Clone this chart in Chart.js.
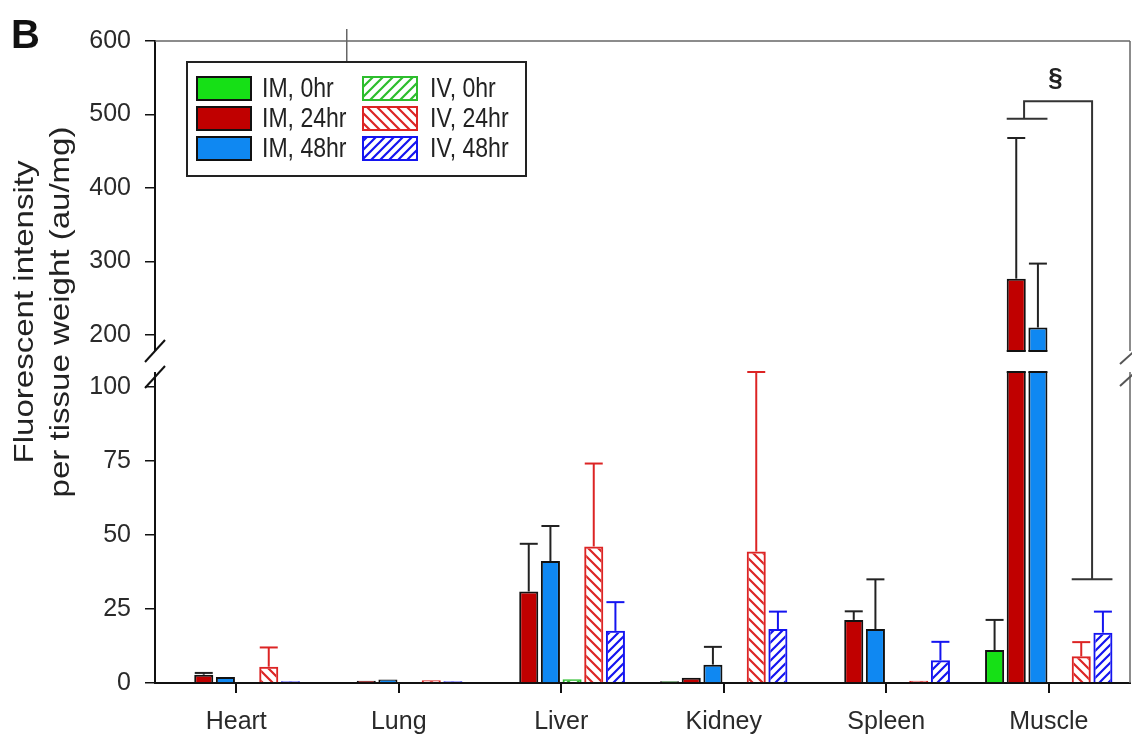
<!DOCTYPE html>
<html lang="en">
<head>
<meta charset="UTF-8">
<title>Fluorescent intensity per tissue weight</title>
<style>
  html, body { margin: 0; padding: 0; background: #fff; }
  #wrap { width: 1132px; height: 749px; position: relative; }
</style>
</head>
<body>
<div id="wrap"><canvas id="myChart"></canvas></div>

<script src="https://cdn.jsdelivr.net/npm/chart.js@4.4.1/dist/chart.umd.min.js"></script>
<script>
  // data (upper error = SD shown above each bar)
  const categories = ['Heart', 'Lung', 'Liver', 'Kidney', 'Spleen', 'Muscle'];
  const yTicks = [0, 25, 50, 75, 100, 200, 300, 400, 500, 600];

  const im0     = [0,   0,   0,    0.6, 0,    11.1];
  const im0Err  = [0,   0,   0,    0,   0,    10.2];
  const im24    = [2.8, 0.8, 30.9, 1.8, 21.3, 276.5];
  const im24Err = [0.6, 0,   16.1, 0,   2.9,  191.5];
  const im48    = [2.0, 1.2, 41.2, 6.2, 18.2, 210];
  const im48Err = [0,   0,   11.8, 6.0, 16.8, 87];
  const iv0     = [0,   0,   1.3,  0,   0,    0];
  const iv0Err  = [0,   0,   0,    0,   0,    0];
  const iv24    = [5.5, 0.9, 46.1, 44.4, 0.8, 9.0];
  const iv24Err = [6.5, 0,   28.0, 60.7, 0,   4.8];
  const iv48    = [0.6, 0.6, 17.6, 18.2, 7.7, 17.0];
  const iv48Err = [0,   0,   9.7,  5.9,  6.2, 7.1];

  // significance bracket (muscle, IM vs IV)
  const sigIM = 494, sigTop = 518, sigIV = 35, sigMark = 548;

  // axis break
  const breakLow = 105, breakHigh = 178;
  const lowFrac = 0.4844, highFrac = 0.5171;

  const FONT = "'Liberation Sans', Arial, sans-serif";

  const LinearScale = Chart.LinearScale || Chart.registry.getScale('linear');
  class BrokenScale extends LinearScale {
    getPixelForValue(v) {
      const h = this.bottom - this.top;
      let f;
      if (v <= breakLow) f = v / breakLow * lowFrac;
      else if (v <= breakHigh) f = lowFrac + (v - breakLow) / (breakHigh - breakLow) * (highFrac - lowFrac);
      else f = highFrac + (v - breakHigh) / (this.max - breakHigh) * (1 - highFrac);
      return this.bottom - f * h;
    }
    getValueForPixel(p) {
      const f = (this.bottom - p) / (this.bottom - this.top);
      if (f <= lowFrac) return f / lowFrac * breakLow;
      if (f <= highFrac) return breakLow + (f - lowFrac) / (highFrac - lowFrac) * (breakHigh - breakLow);
      return breakHigh + (f - highFrac) / (1 - highFrac) * (this.max - breakHigh);
    }
  }
  BrokenScale.id = 'broken';
  BrokenScale.defaults = LinearScale.defaults;
  Chart.register(BrokenScale);

  function hatch(color, dir, s) {
    const c = document.createElement('canvas');
    c.width = s; c.height = s;
    const g = c.getContext('2d');
    g.strokeStyle = color;
    g.lineWidth = 2.2;
    g.beginPath();
    if (dir === '/') {
      g.moveTo(0, s); g.lineTo(s, 0);
      g.moveTo(-s / 2, s / 2); g.lineTo(s / 2, -s / 2);
      g.moveTo(s / 2, s * 1.5); g.lineTo(s * 1.5, s / 2);
    } else {
      g.moveTo(0, 0); g.lineTo(s, s);
      g.moveTo(-s / 2, s / 2); g.lineTo(s / 2, s * 1.5);
      g.moveTo(s / 2, -s / 2); g.lineTo(s * 1.5, s / 2);
    }
    g.stroke();
    return g.createPattern(c, 'repeat');
  }

  const green = '#16e016', dred = '#c00000', lblue = '#0f88f2';
  const hGreen = '#2dbd2d', hRed = '#dc2424', hBlue = '#1414f0';

  const datasets = [
    { label: 'IM, 0hr',  data: im0,  err: im0Err,  backgroundColor: green, borderColor: '#111', errColor: '#222' },
    { label: 'IM, 24hr', data: im24, err: im24Err, backgroundColor: dred,  borderColor: '#111', errColor: '#222' },
    { label: 'IM, 48hr', data: im48, err: im48Err, backgroundColor: lblue, borderColor: '#111', errColor: '#222' },
    { label: 'IV, 0hr',  data: iv0,  err: iv0Err,  backgroundColor: hatch(hGreen, '/', 10), borderColor: hGreen, errColor: hGreen },
    { label: 'IV, 24hr', data: iv24, err: iv24Err, backgroundColor: hatch(hRed, '\\', 10), borderColor: hRed, errColor: hRed },
    { label: 'IV, 48hr', data: iv48, err: iv48Err, backgroundColor: hatch(hBlue, '/', 9), borderColor: hBlue, errColor: hBlue }
  ];

  function line(ctx, x1, y1, x2, y2) {
    ctx.beginPath(); ctx.moveTo(x1, y1); ctx.lineTo(x2, y2); ctx.stroke();
  }

  const decor = {
    id: 'decor',
    beforeDatasetsDraw(chart) {
      const { ctx, chartArea: ca } = chart;
      ctx.save();
      ctx.strokeStyle = '#666';
      ctx.lineWidth = 1.5;
      line(ctx, ca.left, ca.top, ca.right, ca.top);
      line(ctx, ca.right, ca.top, ca.right, ca.bottom);
      ctx.restore();
    },
    afterDatasetsDraw(chart) {
      const { ctx, chartArea: ca, scales: { x, y } } = chart;
      const yb1 = y.getPixelForValue(breakHigh), yb2 = y.getPixelForValue(breakLow);
      ctx.save();

      // the break: white band, then bar edges and axis marks
      ctx.fillStyle = '#fff';
      ctx.fillRect(ca.left - 3, yb1, ca.right - ca.left + 8, yb2 - yb1);
      chart.data.datasets.forEach((ds, i) => {
        chart.getDatasetMeta(i).data.forEach(bar => {
          if (bar.y < yb1) {
            ctx.strokeStyle = ds.borderColor;
            ctx.lineWidth = 2;
            line(ctx, bar.x - bar.width / 2, yb1, bar.x + bar.width / 2, yb1);
            line(ctx, bar.x - bar.width / 2, yb2, bar.x + bar.width / 2, yb2);
          }
        });
      });
      ctx.strokeStyle = '#111';
      ctx.lineWidth = 2;
      [yb1, yb2 + 5].forEach(c => {
        line(ctx, ca.left - 10, c + 11, ca.left + 10, c - 11);
      });
      ctx.strokeStyle = '#555';
      [yb1 + 4, yb2 + 5].forEach(c => {
        line(ctx, ca.right - 10, c + 9, ca.right + 10, c - 9);
      });

      // error bars (upper only)
      chart.data.datasets.forEach((ds, i) => {
        chart.getDatasetMeta(i).data.forEach((bar, j) => {
          const e = ds.err[j];
          if (!e) return;
          const top = y.getPixelForValue(ds.data[j] + e);
          ctx.strokeStyle = ds.errColor;
          ctx.lineWidth = 2;
          line(ctx, bar.x, bar.y, bar.x, top);
          line(ctx, bar.x - 9, top, bar.x + 9, top);
        });
      });

      // significance bracket over muscle
      const m = categories.length - 1;
      const b1 = chart.getDatasetMeta(1).data[m], b2 = chart.getDatasetMeta(2).data[m];
      const b4 = chart.getDatasetMeta(4).data[m], b5 = chart.getDatasetMeta(5).data[m];
      const imMid = (b1.x + b2.x) / 2, ivMid = (b4.x + b5.x) / 2;
      const yIM = y.getPixelForValue(sigIM), yTop = y.getPixelForValue(sigTop), yIV = y.getPixelForValue(sigIV);
      ctx.strokeStyle = '#333';
      ctx.lineWidth = 2;
      line(ctx, b1.x - b1.width / 2, yIM, b2.x + b2.width / 2, yIM);
      ctx.beginPath();
      ctx.moveTo(imMid - 3, yIM); ctx.lineTo(imMid - 3, yTop); ctx.lineTo(ivMid, yTop); ctx.lineTo(ivMid, yIV);
      ctx.stroke();
      line(ctx, b4.x - b4.width / 2, yIV, b5.x + b5.width / 2, yIV);
      ctx.fillStyle = '#222';
      ctx.font = 'bold 26px ' + FONT;
      ctx.textAlign = 'center';
      ctx.textBaseline = 'middle';
      ctx.fillText('§', (imMid + ivMid) / 2 - 4, y.getPixelForValue(sigMark));

      // stray tick at the top edge
      ctx.strokeStyle = '#666';
      ctx.lineWidth = 1.5;
      const tx = x.getPixelForValue(0.68);
      line(ctx, tx, ca.top - 12, tx, 62);

      // legend box
      ctx.fillStyle = '#fff';
      ctx.fillRect(187, 62, 339, 114);
      ctx.strokeStyle = '#222';
      ctx.lineWidth = 2;
      ctx.strokeRect(187, 62, 339, 114);
      ctx.font = '24px ' + FONT;
      ctx.textAlign = 'left';
      ctx.textBaseline = 'middle';
      chart.data.datasets.forEach((ds, i) => {
        const col = Math.floor(i / 3), row = i % 3;
        const sx = col ? 363 : 197, tx2 = col ? 430 : 262;
        const sy = 77 + row * 30;
        ctx.fillStyle = ds.backgroundColor;
        ctx.fillRect(sx, sy, 54, 23);
        ctx.strokeStyle = ds.borderColor;
        ctx.lineWidth = 2;
        ctx.strokeRect(sx, sy, 54, 23);
        ctx.fillStyle = '#222';
        ctx.save();
        ctx.translate(tx2, sy + 12);
        ctx.scale(0.96, 1.15);
        ctx.fillText(ds.label, 0, 0);
        ctx.restore();
      });

      // panel letter
      ctx.fillStyle = '#111';
      ctx.font = 'bold 40px ' + FONT;
      ctx.textAlign = 'left';
      ctx.textBaseline = 'alphabetic';
      ctx.fillText('B', 11, 48);

      // y title, two lines
      ctx.fillStyle = '#222';
      ctx.font = '28px ' + FONT;
      ctx.textAlign = 'center';
      ctx.textBaseline = 'middle';
      [['Fluorescent intensity', 25], ['per tissue weight (au/mg)', 61]].forEach(([t, cx]) => {
        ctx.save();
        ctx.translate(cx, 312);
        ctx.rotate(-Math.PI / 2);
        ctx.scale(1.18, 1);
        ctx.fillText(t, 0, 0);
        ctx.restore();
      });

      ctx.restore();
    }
  };

  new Chart('myChart', {
    type: 'bar',
    data: { labels: categories, datasets: datasets },
    options: {
      responsive: true,
      maintainAspectRatio: false,
      animation: false,
      layout: { padding: { top: 41, right: 2 } },
      plugins: { legend: { display: false }, tooltip: { enabled: false } },
      datasets: { bar: { categoryPercentage: 0.8, barPercentage: 0.88, borderWidth: 2 } },
      scales: {
        x: {
          grid: { offset: false, drawOnChartArea: false, color: '#111', lineWidth: 2, tickLength: 10 },
          border: { color: '#111', width: 2 },
          ticks: { font: { family: FONT, size: 25 }, color: '#2a2a2a', padding: 14, maxRotation: 0 },
          afterFit(s) { s.height = 66; }
        },
        y: {
          type: 'broken',
          min: 0,
          max: 600,
          afterBuildTicks(s) { s.ticks = yTicks.map(v => ({ value: v })); },
          grid: { drawOnChartArea: false, color: '#111', lineWidth: 1.5, tickLength: 10 },
          border: { color: '#111', width: 2 },
          ticks: { font: { family: FONT, size: 25 }, color: '#2a2a2a', padding: 14 },
          afterFit(s) { s.width = 155; }
        }
      }
    },
    plugins: [decor]
  });
</script>
</body>
</html>
